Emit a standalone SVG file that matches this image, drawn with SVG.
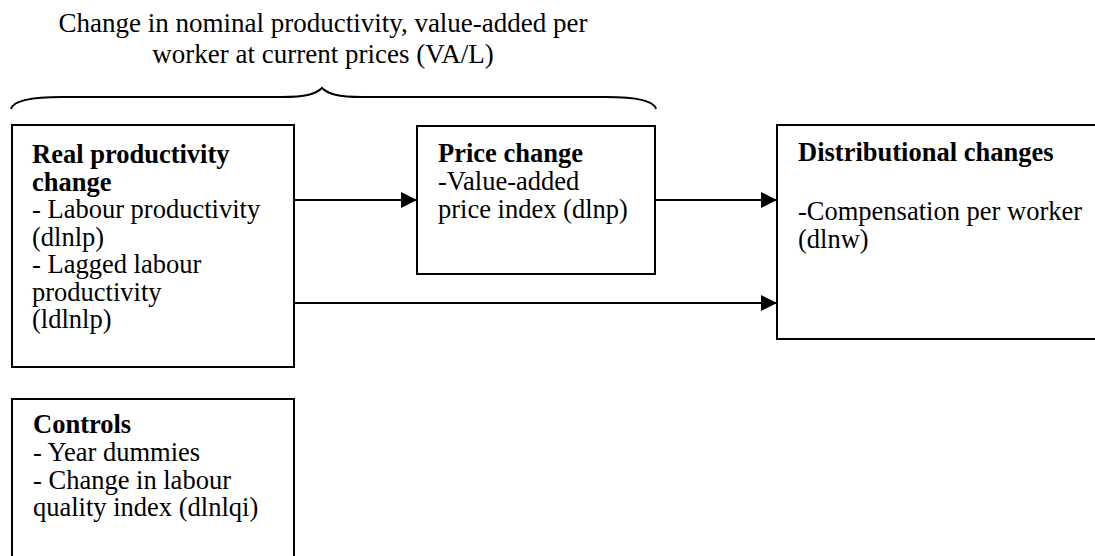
<svg xmlns="http://www.w3.org/2000/svg" width="1095" height="556" viewBox="0 0 1095 556">
<defs>
<style>
.t{font-family:"Liberation Serif","Times New Roman",serif;font-size:26.5px;fill:#000}
.b{font-weight:bold}
.ttl{font-family:"Liberation Serif","Times New Roman",serif;font-size:27px;fill:#000}
.box{fill:#fff;stroke:#000;stroke-width:2}
.con{fill:none;stroke:#000;stroke-width:2}
</style>
<marker id="ah" markerWidth="16" markerHeight="16" viewBox="0 0 16 16" refX="16" refY="8" orient="auto" markerUnits="userSpaceOnUse">
<path d="M0,0 L16,8 L0,16 Z" fill="#000"/>
</marker>
</defs>
<rect width="1095" height="556" fill="#fff"/>
<g id="title">
<text class="ttl" x="323" y="32" text-anchor="middle">Change in nominal productivity, value-added per</text>
<text class="ttl" x="323" y="63" text-anchor="middle">worker at current prices (VA/L)</text>
<path class="con" d="M11,109 C13,101 30,97 62,97 L282,97 C306,97 316,94 322,88 C328,94 338,97 362,97 L606,97 C638,97 654,101 656,109"/>
</g>
<g id="real">
<rect class="box" x="12" y="125" width="282" height="242"/>
<text class="t"><tspan class="b" x="32" y="163">Real productivity</tspan><tspan class="b" x="32" y="190.5">change</tspan><tspan x="32" y="218">- Labour productivity</tspan><tspan x="32" y="245.5">(dlnlp)</tspan><tspan x="32" y="273">- Lagged labour</tspan><tspan x="32" y="300.5">productivity</tspan><tspan x="32" y="328">(ldlnlp)</tspan></text>
</g>
<g id="price">
<rect class="box" x="417" y="126" width="238" height="148"/>
<text class="t"><tspan class="b" x="438" y="162">Price change</tspan><tspan x="438" y="190">-Value-added</tspan><tspan x="438" y="218">price index (dlnp)</tspan></text>
</g>
<g id="dist">
<rect class="box" x="777" y="125" width="330" height="214"/>
<text class="t"><tspan class="b" x="798" y="161">Distributional changes</tspan><tspan x="798" y="220">-Compensation per worker</tspan><tspan x="798" y="248">(dlnw)</tspan></text>
</g>
<g id="controls">
<rect class="box" x="12" y="399" width="282" height="170"/>
<text class="t"><tspan class="b" x="33" y="433">Controls</tspan><tspan x="33" y="461">- Year dummies</tspan><tspan x="33" y="488.5">- Change in labour</tspan><tspan x="33" y="516">quality index (dlnlqi)</tspan></text>
</g>
<g id="connectors">
<line class="con" x1="295" y1="200" x2="417" y2="200" marker-end="url(#ah)"/>
<line class="con" x1="655" y1="200" x2="777" y2="200" marker-end="url(#ah)"/>
<line class="con" x1="295" y1="303" x2="777" y2="303" marker-end="url(#ah)"/>
</g>
</svg>
